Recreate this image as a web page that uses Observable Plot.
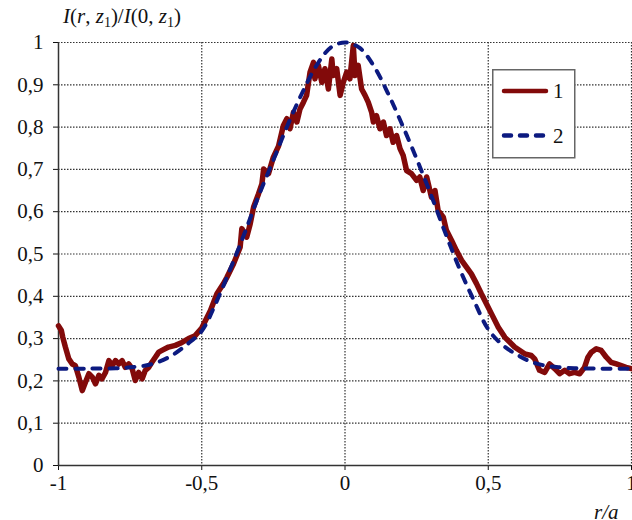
<!DOCTYPE html>
<html>
<head>
<meta charset="utf-8">
<script src="https://cdn.jsdelivr.net/npm/d3@7"></script>
<script src="https://cdn.jsdelivr.net/npm/@observablehq/plot@0.6"></script>
<style>
  html, body { margin: 0; padding: 0; background: #fff; }
  #wrap { position: relative; width: 632px; height: 520px; overflow: hidden; font-family: "Liberation Serif", "Times New Roman", Tinos, Times, "DejaVu Serif", serif; }
  #ytitle { position: absolute; left: 63px; top: 4px; font-size: 21px; color: #111; white-space: nowrap; }
  #ytitle sub { font-size: 14px; vertical-align: -4px; line-height: 0; }
  #xtitle { position: absolute; left: 594px; top: 500px; font-size: 21px; font-style: italic; color: #111; }
  #legend { position: absolute; left: 492px; top: 69px; }
</style>
</head>
<body>
<div id="wrap">
  <div id="chart"></div>
  <div id="ytitle"><i>I</i>(<i>r</i>, <i>z</i><sub>1</sub>)/<i>I</i>(0, <i>z</i><sub>1</sub>)</div>
  <div id="xtitle">r/a</div>
  <svg id="legend" width="84" height="90"></svg>
</div>
<script>
const FONT = "'Liberation Serif', 'Times New Roman', Tinos, Times, 'DejaVu Serif', serif";
// Series 1: measured profile (r/a, I/I0)
const r1 = [-1.0,-0.99,-0.985,-0.976,-0.964,-0.952,-0.941,-0.929,-0.917,-0.906,-0.894,-0.882,-0.871,-0.859,-0.848,-0.836,-0.824,-0.813,-0.801,-0.79,-0.778,-0.767,-0.755,-0.743,-0.732,-0.72,-0.708,-0.697,-0.685,-0.674,-0.662,-0.65,-0.639,-0.616,-0.592,-0.569,-0.546,-0.523,-0.5,-0.47,-0.447,-0.424,-0.412,-0.389,-0.366,-0.36,-0.343,-0.331,-0.319,-0.302,-0.29,-0.284,-0.267,-0.25,-0.232,-0.215,-0.203,-0.192,-0.18,-0.168,-0.157,-0.145,-0.134,-0.122,-0.11,-0.105,-0.093,-0.081,-0.07,-0.058,-0.046,-0.041,-0.029,-0.017,-0.006,0.006,0.017,0.029,0.035,0.046,0.058,0.07,0.081,0.093,0.099,0.11,0.122,0.134,0.145,0.157,0.168,0.18,0.192,0.203,0.215,0.232,0.25,0.261,0.273,0.285,0.302,0.314,0.325,0.343,0.354,0.372,0.389,0.407,0.424,0.441,0.459,0.476,0.494,0.511,0.535,0.558,0.592,0.627,0.65,0.662,0.679,0.697,0.714,0.732,0.749,0.767,0.784,0.801,0.819,0.836,0.848,0.86,0.877,0.894,0.912,0.929,0.947,0.964,0.981,1.0];
const v1 = [0.33,0.319,0.303,0.28,0.252,0.24,0.236,0.209,0.177,0.197,0.217,0.209,0.193,0.213,0.205,0.22,0.248,0.236,0.248,0.24,0.248,0.232,0.24,0.229,0.201,0.22,0.205,0.225,0.232,0.244,0.256,0.268,0.272,0.28,0.284,0.291,0.3,0.307,0.325,0.366,0.406,0.43,0.445,0.477,0.516,0.56,0.54,0.571,0.611,0.642,0.666,0.701,0.69,0.729,0.755,0.804,0.82,0.796,0.835,0.812,0.843,0.859,0.875,0.93,0.953,0.914,0.946,0.906,0.938,0.89,0.961,0.922,0.938,0.875,0.906,0.93,0.914,0.993,0.922,0.946,0.89,0.875,0.859,0.835,0.812,0.827,0.796,0.812,0.78,0.796,0.764,0.78,0.749,0.733,0.697,0.69,0.674,0.682,0.65,0.682,0.634,0.65,0.603,0.587,0.556,0.532,0.508,0.485,0.469,0.453,0.43,0.406,0.382,0.359,0.327,0.303,0.28,0.264,0.26,0.252,0.225,0.22,0.24,0.229,0.217,0.225,0.217,0.22,0.217,0.232,0.256,0.268,0.276,0.272,0.256,0.244,0.24,0.236,0.232,0.229];

// Series 2: model profile
const r2 = [-1.0,-0.9,-0.8,-0.75,-0.7,-0.65,-0.6,-0.55,-0.5,-0.45,-0.4,-0.35,-0.3,-0.25,-0.2,-0.15,-0.1,-0.05,0,0.05,0.1,0.15,0.2,0.25,0.3,0.35,0.4,0.45,0.5,0.55,0.6,0.65,0.7,0.75,0.8,0.9,1.0];
const v2 = [0.229,0.229,0.23,0.232,0.236,0.245,0.262,0.287,0.318,0.385,0.465,0.55,0.64,0.722,0.805,0.88,0.945,0.988,1.0,0.988,0.945,0.88,0.805,0.725,0.64,0.55,0.465,0.39,0.322,0.285,0.262,0.245,0.236,0.232,0.23,0.229,0.229];

const xTicks = [-1, -0.5, 0, 0.5, 1];
const yTicks = [0, 0.1, 0.2, 0.3, 0.4, 0.5, 0.6, 0.7, 0.8, 0.9, 1];
const seriesNames = ["1", "2"];
const colors = ["#820a0a", "#0c1a80"];

const d1 = r1.map((r, i) => ({r, v: v1[i]}));
const d2 = r2.map((r, i) => ({r, v: v2[i]}));
const fmt = d => String(d).replace(".", ",");

const chart = Plot.plot({
  width: 632,
  height: 520,
  marginLeft: 58,
  marginRight: 1,
  marginTop: 42,
  marginBottom: 55,
  style: {fontFamily: FONT, fontSize: "21px", color: "#111", background: "transparent"},
  x: {domain: [-1, 1], ticks: xTicks, tickFormat: fmt, tickSize: 5, tickPadding: 5, label: null},
  y: {domain: [0, 1], ticks: yTicks, tickFormat: fmt, tickSize: 5, tickPadding: 10, label: null},
  marks: [
    Plot.gridX(xTicks.slice(1), {stroke: "#333", strokeOpacity: 1, strokeDasharray: "1.5,1.5", strokeWidth: 1.2}),
    Plot.gridY(yTicks.slice(1), {stroke: "#333", strokeOpacity: 1, strokeDasharray: "1.5,1.5", strokeWidth: 1.2}),
    Plot.ruleX([-1], {stroke: "#333", strokeWidth: 1.5}),
    Plot.ruleY([0], {stroke: "#333", strokeWidth: 1.5}),
    Plot.line(d1, {x: "r", y: "v", stroke: colors[0], strokeWidth: 5.5, strokeLinejoin: "round", strokeLinecap: "round"}),
    Plot.line(d2, {x: "r", y: "v", curve: "catmull-rom", stroke: colors[1], strokeWidth: 4, strokeDasharray: "8,9", strokeLinecap: "round"})
  ]
});
document.getElementById("chart").appendChild(chart);

// Legend
const leg = d3.select("#legend");
leg.append("rect").attr("x", 0.75).attr("y", 0.75).attr("width", 82).attr("height", 88)
  .attr("fill", "#fff").attr("stroke", "#666").attr("stroke-width", 1.5);
seriesNames.forEach((name, i) => {
  const y = 22 + i * 44.5;
  leg.append("line").attr("x1", 12).attr("x2", 54).attr("y1", y).attr("y2", y)
    .attr("stroke", colors[i]).attr("stroke-width", 4.5).attr("stroke-linecap", "round")
    .attr("stroke-dasharray", i === 1 ? "7,9" : null);
  leg.append("text").attr("x", 61).attr("y", y + 7).text(name)
    .attr("font-family", FONT).attr("font-size", 21).attr("fill", "#111");
});
</script>
</body>
</html>
